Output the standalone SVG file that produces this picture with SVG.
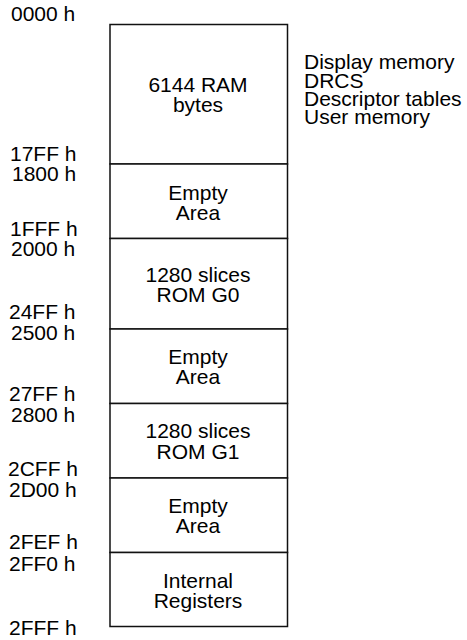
<svg xmlns="http://www.w3.org/2000/svg" width="467" height="640" viewBox="0 0 467 640">
<style>
text{font-family:"Liberation Sans",Arial,sans-serif;font-size:21px;fill:#000}
.c{text-anchor:middle}
.seg{fill:#fff;stroke:#111;stroke-width:1.5}
</style>
<rect width="467" height="640" fill="#fff"/>
<g id="ram"><rect class="seg" x="110" y="24.5" width="177.5" height="139.5"/><text class="c" x="198" y="91.5">6144 RAM</text><text class="c" x="198" y="112">bytes</text></g>
<g id="empty1"><rect class="seg" x="110" y="164" width="177.5" height="74.5"/><text class="c" x="198" y="200">Empty</text><text class="c" x="198" y="219.5">Area</text></g>
<g id="romg0"><rect class="seg" x="110" y="238.5" width="177.5" height="90.5"/><text class="c" x="198" y="281.5">1280 slices</text><text class="c" x="198" y="301.5">ROM G0</text></g>
<g id="empty2"><rect class="seg" x="110" y="329" width="177.5" height="74.5"/><text class="c" x="198" y="364">Empty</text><text class="c" x="198" y="384">Area</text></g>
<g id="romg1"><rect class="seg" x="110" y="403.5" width="177.5" height="74.5"/><text class="c" x="198" y="437.5">1280 slices</text><text class="c" x="198" y="459">ROM G1</text></g>
<g id="empty3"><rect class="seg" x="110" y="478" width="177.5" height="74.5"/><text class="c" x="198" y="513">Empty</text><text class="c" x="198" y="533">Area</text></g>
<g id="registers"><rect class="seg" x="110" y="552.5" width="177.5" height="74"/><text class="c" x="198" y="588">Internal</text><text class="c" x="198" y="607.5">Registers</text></g>
<g id="addresses">
<text x="11" y="20.5">0000 h</text>
<text x="10" y="160.5">17FF h</text>
<text x="12" y="180.5">1800 h</text>
<text x="10" y="235.5">1FFF h</text>
<text x="11" y="255.5">2000 h</text>
<text x="9" y="319">24FF h</text>
<text x="11" y="340">2500 h</text>
<text x="9" y="400.5">27FF h</text>
<text x="11" y="422">2800 h</text>
<text x="8" y="475.5">2CFF h</text>
<text x="9" y="496.5">2D00 h</text>
<text x="9" y="549">2FEF h</text>
<text x="9" y="571">2FF0 h</text>
<text x="9" y="635">2FFF h</text>
</g>
<g id="ram-uses">
<text x="304" y="69.3">Display memory</text>
<text x="304" y="87.7">DRCS</text>
<text x="304" y="105.7">Descriptor tables</text>
<text x="304" y="124">User memory</text>
</g>
</svg>
